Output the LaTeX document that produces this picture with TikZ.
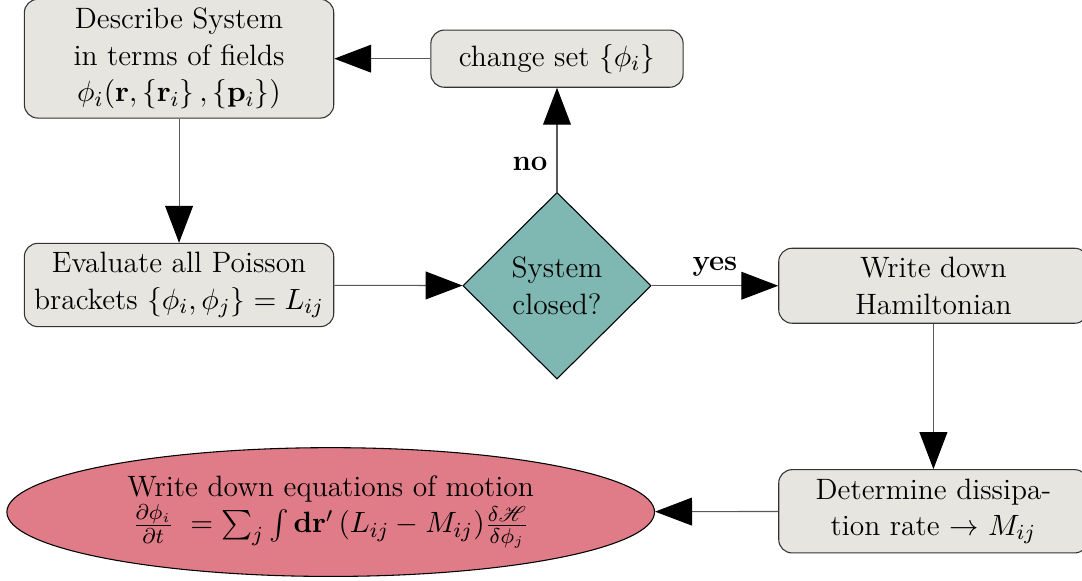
\documentclass[tikz,border=0pt]{standalone}
\usepackage{amsmath,amssymb}
\usepackage{mathrsfs}
\usepackage{xcolor}
\usetikzlibrary{shapes.geometric,arrows.meta}

\definecolor{boxgray}{HTML}{E6E5E0}
\definecolor{decteal}{HTML}{7FB7B2}
\definecolor{endpink}{HTML}{DF7C87}

\tikzset{
  stepbox/.style={draw=black!80, fill=boxgray, rounded corners=5pt, align=center, minimum width=4.06cm},
  flowline/.style={draw=black!65, -{Triangle[length=13.8pt,width=10.4pt,black]}}
}

\begin{document}
\begin{tikzpicture}[font=\fontsize{11}{13.6}\selectfont]
\useasboundingbox (0,0) rectangle (14.20,-7.62);
\node[stepbox] (describe) at (2.35,-0.77) {Describe System\\in terms of fields\\$\phi_i(\mathbf{r},\left\{\mathbf{r}_i\right\},\left\{\mathbf{p}_i\right\})$};
\node[stepbox, minimum width=3.31cm, minimum height=0.75cm] (change) at (7.31,-0.77) {change set $\{\phi_i\}$};
\node[stepbox] (poisson) at (2.35,-3.74) {Evaluate all Poisson\\brackets $\{\phi_i,\phi_j\} = L_{ij}$};
\node[diamond, draw=black, fill=decteal, align=center, minimum width=2.47cm, minimum height=2.45cm] (closed) at (7.31,-3.75) {System\\closed?};
\node[stepbox] (hamilton) at (12.25,-3.75) {Write down\\Hamiltonian};
\node[stepbox] (dissip) at (12.25,-6.71) {Determine dissipa-\\tion rate $\rightarrow$ $M_{ij}$};
\node[ellipse, draw=black, fill=endpink, align=center, minimum width=8.5cm, minimum height=1.69cm] (motion) at (4.34,-6.72)
  {Write down equations of motion\\$\frac{\partial\phi_i}{\partial t}\;=\sum_j\int\mathbf{d}\mathbf{r}'\,(L_{ij}-M_{ij})\frac{\delta\mathscr{H}}{\delta\phi_j}$};
\draw[flowline] (describe) -- (poisson);
\draw[flowline] (poisson) -- (closed);
\draw[flowline] (closed) -- node[left, pos=0.27] {\textbf{no}} (change);
\draw[flowline] (change) -- (describe);
\draw[flowline] (closed) -- node[above] {\textbf{yes}} (hamilton);
\draw[flowline] (hamilton) -- (dissip);
\draw[flowline] (dissip) -- (motion);
\end{tikzpicture}
\end{document}
